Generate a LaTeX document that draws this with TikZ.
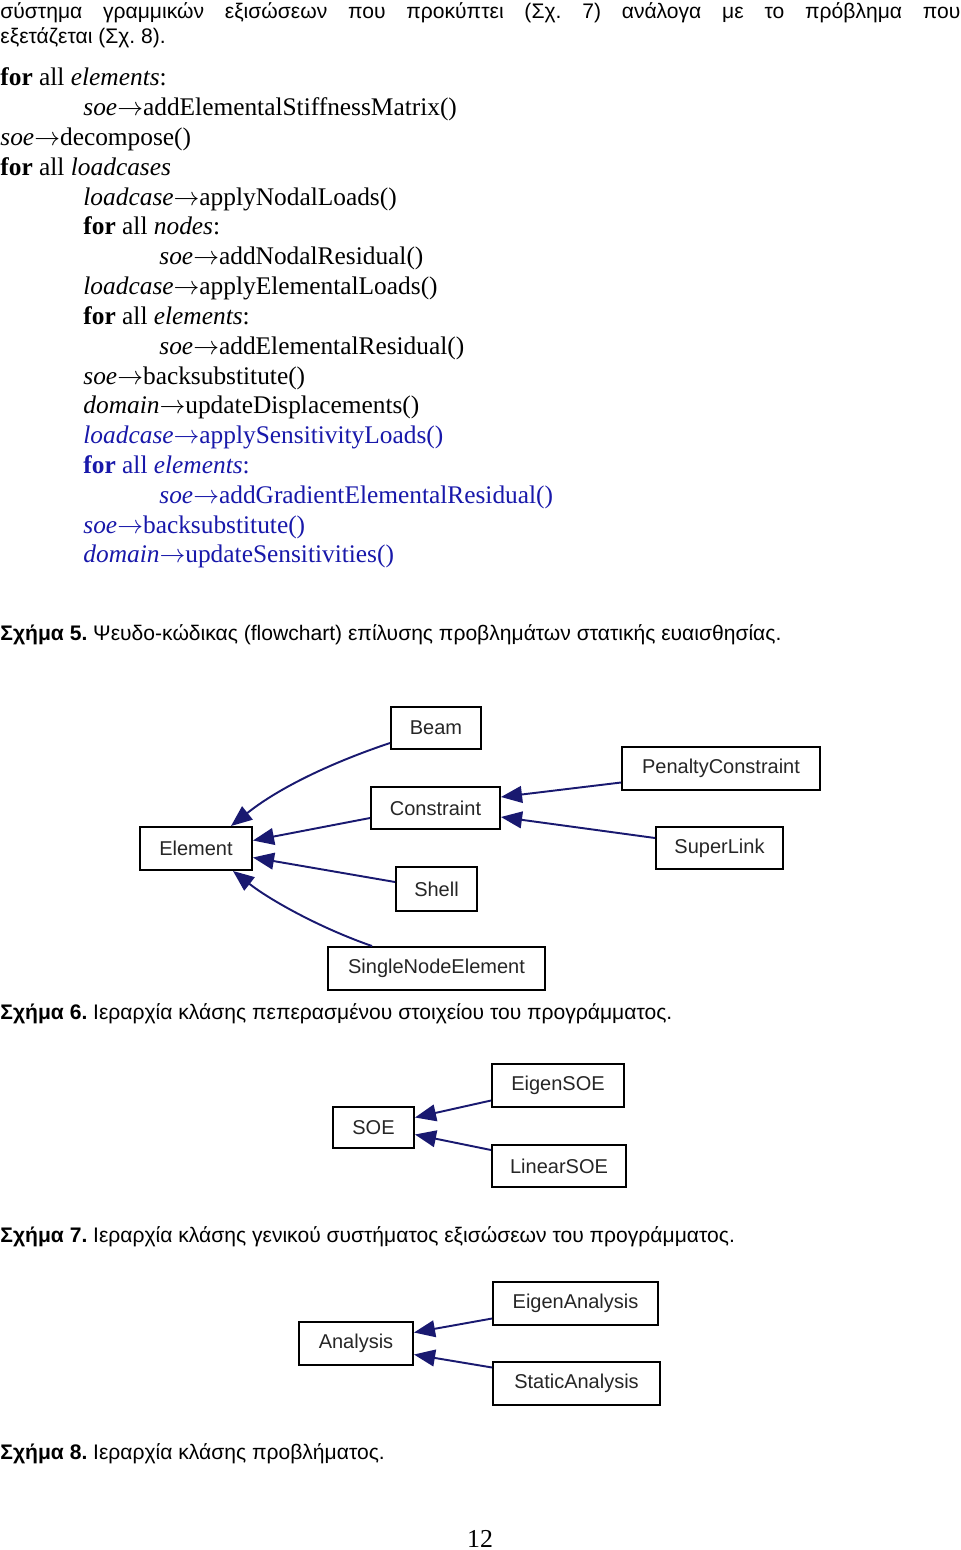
\documentclass[tikz,border=0pt]{standalone}
\usepackage{fontspec}
\setmainfont{Liberation Serif}
\newfontfamily\grfont{Liberation Sans}
\newfontfamily\clsfont{Liberation Sans}
\usetikzlibrary{arrows.meta,calc}
\definecolor{codeblue}{RGB}{24,24,170}
\definecolor{dox}{RGB}{25,25,112}
\newcommand\codearrow{$\rightarrow$}
\frenchspacing
\begin{document}
\begin{tikzpicture}[x=0.465pt,y=-0.465pt,
  code/.style={anchor=base west,inner sep=0pt,font=\fontsize{11.8}{14}\selectfont},
  gr/.style={anchor=base west,inner sep=0pt,font=\grfont\fontsize{9.8}{12}\selectfont},
  cls/.style={draw=black,line width=0.9pt,inner sep=0pt,fill=white,
    font=\clsfont\fontsize{9.3}{11}\selectfont,text=black!85},
  box/.style 2 args={minimum width=#1*0.465pt,minimum height=#2*0.465pt},
  inh/.style={draw=dox,line width=0.9pt,-{Triangle[length=9.8pt,width=7.8pt]}},
]
\fill[white] (0,0) rectangle (960,1550);
\useasboundingbox (0,0) rectangle (960,1550);

% introductory text
\node[gr] (p1) at (0,19) {\makebox[446.4pt][s]{σύστημα γραμμικών εξισώσεων που προκύπτει (Σχ. 7) ανάλογα με το πρόβλημα που}};
\node[gr] (p2) at (0,44) {εξετάζεται (Σχ. 8).};

% pseudo-code
\node[code] (c0) at (0,86) {\textbf{for} all \textit{elements}:};
\node[code] (c1) at (83,115.8) {\textit{soe}\codearrow addElementalStiffnessMatrix()};
\node[code] (c2) at (0,145.6) {\textit{soe}\codearrow decompose()};
\node[code] (c3) at (0,175.4) {\textbf{for} all \textit{loadcases}};
\node[code] (c4) at (83,205.2) {\textit{loadcase}\codearrow applyNodalLoads()};
\node[code] (c5) at (83,235) {\textbf{for} all \textit{nodes}:};
\node[code] (c6) at (159,264.8) {\textit{soe}\codearrow addNodalResidual()};
\node[code] (c7) at (83,294.6) {\textit{loadcase}\codearrow applyElementalLoads()};
\node[code] (c8) at (83,324.4) {\textbf{for} all \textit{elements}:};
\node[code] (c9) at (159,354.2) {\textit{soe}\codearrow addElementalResidual()};
\node[code] (c10) at (83,384) {\textit{soe}\codearrow backsubstitute()};
\node[code] (c11) at (83,413.8) {\textit{domain}\codearrow updateDisplacements()};
\node[code,text=codeblue] (c12) at (83,443.6) {\textit{loadcase}\codearrow applySensitivityLoads()};
\node[code,text=codeblue] (c13) at (83,473.4) {\textbf{for} all \textit{elements}:};
\node[code,text=codeblue] (c14) at (159,503.2) {\textit{soe}\codearrow addGradientElementalResidual()};
\node[code,text=codeblue] (c15) at (83,533) {\textit{soe}\codearrow backsubstitute()};
\node[code,text=codeblue] (c16) at (83,562.8) {\textit{domain}\codearrow updateSensitivities()};

\node[gr] (cap5) at (0,640) {\textbf{Σχήμα 5.} Ψευδο-κώδικας (flowchart) επίλυσης προβλημάτων στατικής ευαισθησίας.};

% element hierarchy
\node[cls,box={90}{42}] (beam) at (436,728) {Beam};
\node[cls,box={129}{42}] (constraint) at (435.5,808) {Constraint};
\node[cls,box={112}{43}] (element) at (196,848.5) {Element};
\node[cls,box={81}{44}] (shell) at (436.5,889) {Shell};
\node[cls,box={217}{43}] (sne) at (436.5,968.5) {SingleNodeElement};
\node[cls,box={198}{43}] (penalty) at (721,768.5) {PenaltyConstraint};
\node[cls,box={127}{42}] (superlink) at (719.5,848) {SuperLink};

\draw[inh] ($(beam.west)+(0,15)$) .. controls (345,758) and (285,783) .. ($(element.north east)+(-22,0)$);
\draw[inh] ($(constraint.west)+(0,10)$) -- ($(element.east)+(0,-8)$);
\draw[inh] ($(shell.west)+(0,-7)$) -- ($(element.east)+(0,9)$);
\draw[inh] ($(sne.north west)+(45,0)$) .. controls (320,928) and (270,900) .. ($(element.south east)+(-20,0)$);
\draw[inh] ($(penalty.west)+(0,14)$) -- ($(constraint.east)+(0,-11)$);
\draw[inh] ($(superlink.west)+(0,-10)$) -- ($(constraint.east)+(0,9)$);

\node[gr] (cap6) at (0,1019) {\textbf{Σχήμα 6.} Ιεραρχία κλάσης πεπερασμένου στοιχείου του προγράμματος.};

% SOE hierarchy
\node[cls,box={81}{41}] (soe) at (373.5,1127.5) {SOE};
\node[cls,box={132}{43}] (eigensoe) at (558,1085.5) {EigenSOE};
\node[cls,box={134}{42}] (linearsoe) at (559,1166) {LinearSOE};
\draw[inh] ($(eigensoe.west)+(0,15)$) -- ($(soe.east)+(0,-10)$);
\draw[inh] ($(linearsoe.west)+(0,-16)$) -- ($(soe.east)+(0,7)$);

\node[gr] (cap7) at (0,1242) {\textbf{Σχήμα 7.} Ιεραρχία κλάσης γενικού συστήματος εξισώσεων του προγράμματος.};

% Analysis hierarchy
\node[cls,box={114}{43}] (analysis) at (356,1343.5) {Analysis};
\node[cls,box={165}{43}] (eigenan) at (575.5,1303.5) {EigenAnalysis};
\node[cls,box={167}{43}] (statican) at (576.5,1383.5) {StaticAnalysis};
\draw[inh] ($(eigenan.west)+(0,15)$) -- ($(analysis.east)+(0,-11)$);
\draw[inh] ($(statican.west)+(0,-16)$) -- ($(analysis.east)+(0,11)$);

\node[gr] (cap8) at (0,1459) {\textbf{Σχήμα 8.} Ιεραρχία κλάσης προβλήματος.};

\node[anchor=base,inner sep=0pt,font=\fontsize{12}{14}\selectfont] (pnum) at (480,1547) {12};
\end{tikzpicture}
\end{document}
